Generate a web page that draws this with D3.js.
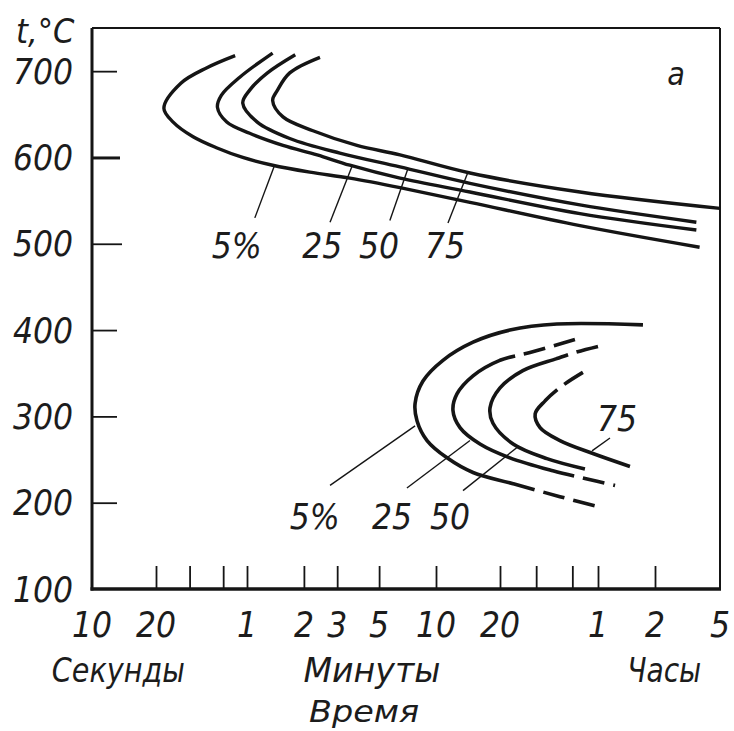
<!DOCTYPE html>
<html><head><meta charset="utf-8">
<script src="https://cdn.jsdelivr.net/npm/d3@7"></script>
<style>
body{margin:0;background:#fff}
text{font-family:'Liberation Sans Narrow','DejaVu Sans Condensed','Liberation Sans',sans-serif;font-style:italic;fill:#1c1c1c}
</style>
</head><body>
<svg id="chart" width="734" height="731"></svg>
<script>
// ---------- data ----------
// time in seconds, temperature in °C
const timeTickValues = [10, 20, 60, 120, 180, 300, 600, 1200, 3600, 7200, 18000];
const timeTickLabels = ["10", "20", "1", "2", "3", "5", "10", "20", "1", "2", "5"];
const timeMinorTicks = [20, 30, 45, 60, 120, 180, 300, 600, 1200, 1800, 2700, 3600, 7200];
const tempTicks = [100, 200, 300, 400, 500, 600, 700];
const unitNames = ["Секунды", "Минуты", "Часы"];
const unitAt = [13.3, 275, 8200];
const unitWidth = [133, 137, 74];
const timeTitle = "Время";
const tempTitle = "t,°C";
const panelMark = "a";

// upper (pearlite) C-curves: 5 %, 25 %, 50 %, 75 %
const pearliteNames = ["5%", "25", "50", "75"];
const pearlite5 = [[52,718],[37,704],[27,686],[22,657],[24.6,641],[31.3,624],[41.8,611],[57,600],[82,591],[129,583],[210,576],[387,565],[867,548],[2940,521],[13500,496]];
const pearlite25 = [[82,721],[55,693],[44,672],[42,658],[47,641],[62,628],[93,614],[141,603],[210,591],[387,576],[867,560],[2940,535],[12900,516]];
const pearlite50 = [[108,719],[77,698],[62,678],[57,663],[68,641],[101,622],[186,605],[387,589],[867,570],[2940,545],[12900,525]];
const pearlite75 = [[146,716],[101,698],[87,678],[82,666],[93,647],[134,631],[229,614],[387,603],[867,582],[2940,560],[18000,541]];
const pearliteLeaders = [[[66,530],[84,591]], [[165,525],[216,590]], [[342,527],[426,587]], [[683,524],[848,583]]];
const pearliteLabelAt = [[53,484],[150,484],[300,484],[661,484]];

// lower (bainite) C-curves: 5 %, 25 %, 50 %, 75 %
const bainiteNames = ["5%", "25", "50", "75"];
const bainite5 = [[6220,406],[2270,407],[1340,400],[896,386],[647,365],[512,341],[465,315],[476,295],[538,272],[676,252],[896,235],[1390,222],[2350,207],[3830,194]];
const bainite25 = [[2780,389],[1680,374],[1200,365],[896,347],[753,326],[721,307],[778,287],[966,268],[1340,252],[2170,237],[3110,228],[4430,220]];
const bainite50 = [[3600,381],[2780,374],[2270,367],[1550,353],[1200,333],[1077,310],[1112,292],[1390,268],[2030,251],[3110,239]];
const bainite75 = [[3040,351],[2430,336],[1990,318],[1780,303],[1880,287],[2350,272],[3400,257],[5310,242]];
// index range of each curve drawn solid; the rest is dashed
const bainiteSolidSpan = [[0,11],[2,9],[2,9],[2,7]];
const bainiteLeaders = [[[165,220],[465,289]], [[421,217],[867,272]], [[804,214],[1452,264]], [[4165,275],[3366,260]]];
const bainiteLabelAt = [[137,170],[351,170],[698,170],[4536,283]];

// ---------- drawing ----------
const svg = d3.select("#chart");
const x = d3.scaleLog()
  .domain([10, 20, 60, 600, 1200, 3600, 7200, 18000])
  .range([92, 156, 247, 436, 500, 598, 655, 720]);
const y = d3.scaleLinear().domain([100, 750]).range([589, 28]);

const ink = "#151515";
const [x0, x1] = [x(10), x(18000)];
const [yb, yt] = [y(100), y(750)];

// frame
svg.append("line").attr("x1", x0).attr("x2", x1).attr("y1", yt).attr("y2", yt).attr("stroke", ink).attr("stroke-width", 2);
svg.append("line").attr("x1", x1).attr("x2", x1).attr("y1", yt).attr("y2", yb).attr("stroke", ink).attr("stroke-width", 2);

// y axis
const yAxis = d3.axisRight(y).tickValues(tempTicks.slice(1)).tickSize(25).tickFormat("");
const gy = svg.append("g").attr("transform", `translate(${x0},0)`).call(yAxis);
gy.select(".domain").remove();
gy.selectAll(".tick line").attr("stroke", ink).attr("stroke-width", d => d === 600 ? 3 : 1.8)
  .attr("x2", d => d === 600 ? 28 : (d === 500 ? 30 : 25));
svg.append("line").attr("x1", x0).attr("x2", x0).attr("y1", yt).attr("y2", yb + 1.5).attr("stroke", ink).attr("stroke-width", 3);
svg.selectAll("text.ylab").data(tempTicks).join("text").attr("class", "ylab")
  .attr("x", 73).attr("y", d => y(d)).attr("dy", "0.36em").attr("text-anchor", "end")
  .attr("font-size", 35).text(d => d);

// x axis
const xAxis = d3.axisTop(x).tickValues(timeMinorTicks).tickSize(23).tickFormat("");
const gx = svg.append("g").attr("transform", `translate(0,${yb})`).call(xAxis);
gx.select(".domain").remove();
gx.selectAll(".tick line").attr("stroke", ink).attr("stroke-width", 1.8);
svg.append("line").attr("x1", x0 - 1.5).attr("x2", x1 + 1).attr("y1", yb).attr("y2", yb).attr("stroke", ink).attr("stroke-width", 3.5);
svg.selectAll("text.xlab").data(timeTickValues).join("text").attr("class", "xlab")
  .attr("x", d => x(d)).attr("y", 637).attr("text-anchor", "middle")
  .attr("font-size", 35).text((d, i) => timeTickLabels[i]);
svg.selectAll("text.unit").data(unitNames).join("text").attr("class", "unit")
  .attr("x", (d, i) => x(unitAt[i]) - unitWidth[i] / 2).attr("y", 682)
  .attr("textLength", (d, i) => unitWidth[i]).attr("lengthAdjust", "spacingAndGlyphs")
  .attr("font-size", 33).text(d => d);
svg.append("text").attr("x", x(250) - 55).attr("y", 722)
  .attr("textLength", 110).attr("lengthAdjust", "spacingAndGlyphs")
  .attr("font-size", 31).text(timeTitle);
svg.append("text").attr("x", 16).attr("y", 43).attr("font-size", 34).text(tempTitle);
svg.append("text").attr("x", 676).attr("y", 85).attr("text-anchor", "middle").attr("font-size", 32).text(panelMark);

// curves
const line = d3.line().x(d => x(d[0])).y(d => y(d[1])).curve(d3.curveCatmullRom.alpha(0.5));
const plot = svg.append("g");

[pearlite5, pearlite25, pearlite50, pearlite75].forEach(c => {
  plot.append("path").attr("d", line(c)).attr("fill", "none").attr("stroke", ink).attr("stroke-width", 3.4);
});

function vertexLengths(node, pts) {
  const total = node.getTotalLength();
  const best = pts.map(() => ({ d: Infinity, L: 0 }));
  for (let L = 0; L <= total; L += 0.5) {
    const p = node.getPointAtLength(L);
    pts.forEach((q, i) => {
      const dd = (p.x - q[0]) ** 2 + (p.y - q[1]) ** 2;
      if (dd < best[i].d) { best[i].d = dd; best[i].L = L; }
    });
  }
  return best.map(b => b.L);
}
function mixedDash(total, a, b, dash, gap) {
  const arr = [];
  const push = (on, len) => {
    if (len <= 0) return;
    if ((arr.length % 2 === 0) !== on) arr.push(0);
    arr.push(len);
  };
  const dashed = (s, e) => {
    let p = s;
    while (p < e - 1e-6) {
      const d = Math.min(dash, e - p); push(true, d); p += d;
      const g = Math.min(gap, e - p); push(false, g); p += g;
    }
  };
  dashed(0, a); push(true, b - a); dashed(b, total);
  if (arr.length % 2 === 1) arr.push(total);
  return arr.join(" ");
}

[bainite5, bainite25, bainite50, bainite75].forEach((c, i) => {
  const path = plot.append("path").attr("d", line(c)).attr("fill", "none")
    .attr("stroke", ink).attr("stroke-width", 3.6);
  const node = path.node();
  const total = node.getTotalLength();
  const px = c.map(d => [x(d[0]), y(d[1])]);
  const Ls = vertexLengths(node, px);
  const [s, e] = bainiteSolidSpan[i];
  path.attr("stroke-dasharray", mixedDash(total, Ls[s], Ls[e], 22, 9));
});

// leaders and labels
function leaders(list) {
  list.forEach(seg => {
    plot.append("line")
      .attr("x1", x(seg[0][0])).attr("y1", y(seg[0][1]))
      .attr("x2", x(seg[1][0])).attr("y2", y(seg[1][1]))
      .attr("stroke", ink).attr("stroke-width", 1.4);
  });
}
leaders(pearliteLeaders);
leaders(bainiteLeaders);
plot.selectAll("text.pl").data(pearliteNames).join("text").attr("class", "pl")
  .attr("x", (d, i) => x(pearliteLabelAt[i][0])).attr("y", (d, i) => y(pearliteLabelAt[i][1]))
  .attr("text-anchor", "middle").attr("font-size", 35).text(d => d);
plot.selectAll("text.bl").data(bainiteNames).join("text").attr("class", "bl")
  .attr("x", (d, i) => x(bainiteLabelAt[i][0])).attr("y", (d, i) => y(bainiteLabelAt[i][1]))
  .attr("text-anchor", "middle").attr("font-size", 35).text(d => d);
</script>
</body></html>
